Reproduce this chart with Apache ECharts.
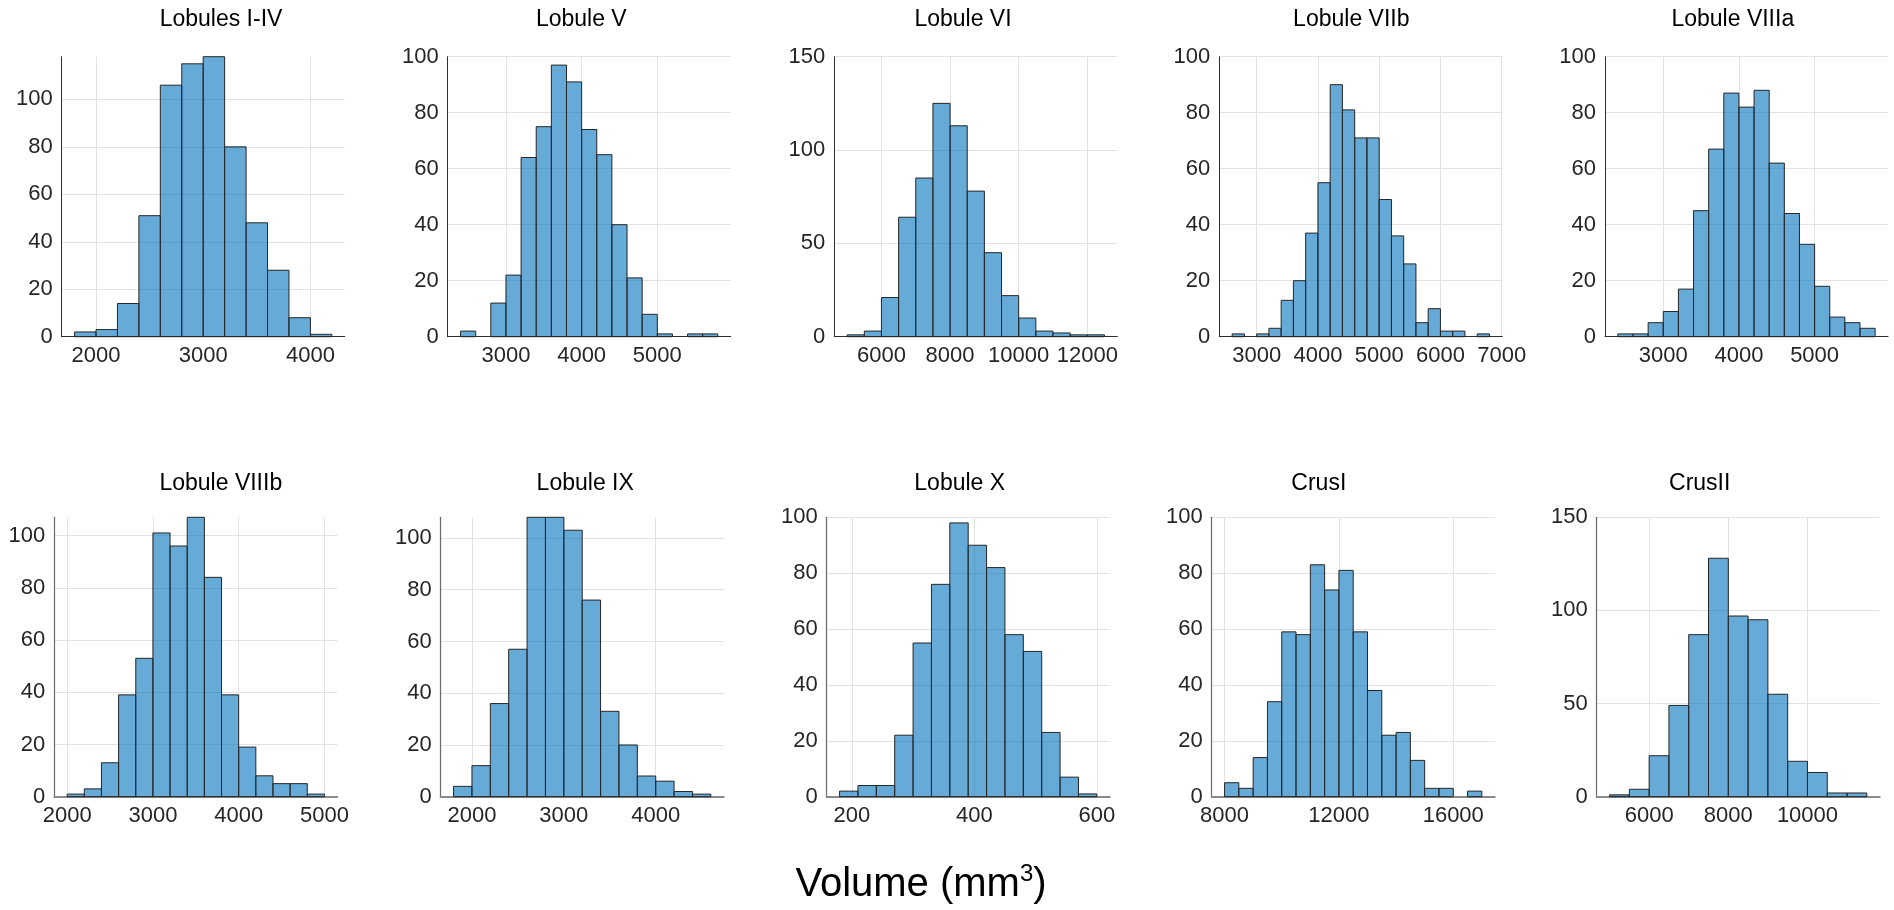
<!DOCTYPE html>
<html>
<head>
<meta charset="utf-8">
<title>Cerebellar lobule volumes</title>
<script src="https://cdn.jsdelivr.net/npm/echarts@6/dist/echarts.min.js"></script>
<style>
  html, body { margin: 0; padding: 0; background: #fff; }
  #chart { width: 1894px; height: 910px; }
</style>
</head>
<body>
<div id="chart"></div>
<script>
// ---- data: histogram counts per region (bins of equal width) ----
const panelTitles = ['Lobules I-IV', 'Lobule V', 'Lobule VI', 'Lobule VIIb', 'Lobule VIIIa',
                     'Lobule VIIIb', 'Lobule IX', 'Lobule X', 'CrusI', 'CrusII'];
const binStart = [1800, 2400, 5000, 2600, 2400, 2000, 1800, 180, 8000, 5000];
const binWidth = [200, 200, 500, 200, 200, 200, 200, 30, 500, 500];

const countsLobI_IV  = [2, 3, 14, 51, 106, 115, 118, 80, 48, 28, 8, 1];
const countsLobV     = [2, 0, 12, 22, 64, 75, 97, 91, 74, 65, 40, 21, 8, 1, 0, 1, 1];
const countsLobVI    = [1, 3, 21, 64, 85, 125, 113, 78, 45, 22, 10, 3, 2, 1, 1];
const countsLobVIIb  = [1, 0, 1, 3, 13, 20, 37, 55, 90, 81, 71, 71, 49, 36, 26, 5, 10, 2, 2, 0, 1];
const countsLobVIIIa = [1, 1, 5, 9, 17, 45, 67, 87, 82, 88, 62, 44, 33, 18, 7, 5, 3];
const countsLobVIIIb = [1, 3, 13, 39, 53, 101, 96, 107, 84, 39, 19, 8, 5, 5, 1];
const countsLobIX    = [4, 12, 36, 57, 108, 108, 103, 76, 33, 20, 8, 6, 2, 1];
const countsLobX     = [2, 4, 4, 22, 55, 76, 98, 90, 82, 58, 52, 23, 7, 1];
const countsCrusI    = [5, 3, 14, 34, 59, 58, 83, 74, 81, 59, 38, 22, 23, 13, 3, 3, 0, 2];
const countsCrusII   = [1, 4, 22, 49, 87, 128, 97, 95, 55, 19, 13, 2, 2];

const panelCounts = [countsLobI_IV, countsLobV, countsLobVI, countsLobVIIb, countsLobVIIIa,
                     countsLobVIIIb, countsLobIX, countsLobX, countsCrusI, countsCrusII];

// ---- tick labels ----
const xTicks = [
  [2000, 3000, 4000],
  [3000, 4000, 5000],
  [6000, 8000, 10000, 12000],
  [3000, 4000, 5000, 6000, 7000],
  [3000, 4000, 5000],
  [2000, 3000, 4000, 5000],
  [2000, 3000, 4000],
  [200, 400, 600],
  [8000, 12000, 16000],
  [6000, 8000, 10000]
];
const yTicksBy20 = [0, 20, 40, 60, 80, 100];
const yTicksBy50 = [0, 50, 100, 150];
const yTicks = [yTicksBy20, yTicksBy20, yTicksBy50, yTicksBy20, yTicksBy20,
                yTicksBy20, yTicksBy20, yTicksBy20, yTicksBy20, yTicksBy50];
const yMax = [118, 100, 150, 100, 100, 107, 108, 100, 100, 150];

const xAxisTitle = 'Volume (mm';

// ---- layout ----
const FONT = '"Liberation Sans", Arial, Helvetica, sans-serif';
const gridLeft = [61.7, 447.7, 834.3, 1219.3, 1605, 54.3, 440.7, 826.7, 1211.7, 1596.7];
const gridWidth = 283;
const rowTop = [56.7, 517.3];
const rowHeight = [280, 279.4];
const titleX = [221, 581.3, 963, 1351.3, 1732.8, 220.8, 585.2, 959.7, 1318.8, 1699.7];
const titleY = [19.3, 483.5];

const AXIS_COLOR = '#262626';
const GRID_COLOR = '#e2e2e2';
const BAR_FILL = 'rgba(0,114,189,0.6)';
const BAR_EDGE = '#262626';
// axis line look per row (lower row frames are drawn softer and heavier)
const xLineStyle = [{ color: '#2e2e2e', width: 1 }, { color: '#8a8a8a', width: 2 }];
const yLineStyle = [{ color: '#2e2e2e', width: 1 }, { color: '#6a6a6a', width: 1.2 }];

const grids = [], xAxes = [], yAxes = [], series = [], titles = [];

panelCounts.forEach(function (counts, i) {
  const row = i < 5 ? 0 : 1;
  const lo = binStart[i];
  const hi = binStart[i] + binWidth[i] * counts.length;
  const pad = (hi - lo) * 0.05;

  grids.push({
    left: gridLeft[i], top: rowTop[row], width: gridWidth, height: rowHeight[row],
    containLabel: false, outerBoundsMode: 'none'
  });

  xAxes.push({
    type: 'value', gridIndex: i, min: lo - pad, max: hi + pad,
    axisLine: { show: true, onZero: false, lineStyle: xLineStyle[row] },
    axisTick: { show: false, customValues: xTicks[i] },
    axisLabel: {
      customValues: xTicks[i], margin: 8,
      color: AXIS_COLOR, fontSize: 22, fontFamily: FONT,
      formatter: function (v) { return String(v); }
    },
    splitLine: { show: true, lineStyle: { color: GRID_COLOR, width: 1 } }
  });

  yAxes.push({
    type: 'value', gridIndex: i, min: 0, max: yMax[i],
    axisLine: { show: true, onZero: false, lineStyle: yLineStyle[row] },
    axisTick: { show: false, customValues: yTicks[i] },
    axisLabel: {
      customValues: yTicks[i], margin: 9,
      color: AXIS_COLOR, fontSize: 22, fontFamily: FONT,
      formatter: function (v) { return String(v); }
    },
    splitLine: { show: true, lineStyle: { color: GRID_COLOR, width: 1 } }
  });

  // each datum: [bin left edge, bin right edge, count]
  const data = counts.map(function (c, k) {
    return [lo + binWidth[i] * k, lo + binWidth[i] * (k + 1), c];
  });

  series.push({
    type: 'custom',
    xAxisIndex: i, yAxisIndex: i,
    encode: { x: [0, 1], y: 2 },
    silent: true,
    data: data,
    renderItem: function (params, api) {
      const c = api.value(2);
      if (!c) return null;
      const p0 = api.coord([api.value(0), 0]);
      const p1 = api.coord([api.value(1), c]);
      return {
        type: 'rect',
        shape: { x: p0[0], y: p1[1], width: p1[0] - p0[0], height: p0[1] - p1[1] },
        style: { fill: BAR_FILL, stroke: BAR_EDGE, lineWidth: 1 }
      };
    }
  });

  titles.push({
    text: panelTitles[i],
    left: titleX[i], top: titleY[row],
    textAlign: 'center', textVerticalAlign: 'middle', padding: 0,
    textStyle: { color: '#000', fontSize: 23, fontWeight: 'normal', fontFamily: FONT }
  });
});

// shared x-axis caption with superscript unit
titles.push({
  text: '{a|' + xAxisTitle + '}{s|3}{a|)}',
  left: 921, top: 885,
  textAlign: 'center', textVerticalAlign: 'middle', padding: 0,
  textStyle: {
    fontWeight: 'normal', fontFamily: FONT, color: '#000',
    rich: {
      a: { fontSize: 40, lineHeight: 46, color: '#000', fontFamily: FONT, fontWeight: 'normal', verticalAlign: 'middle' },
      s: { fontSize: 24, lineHeight: 39, color: '#000', fontFamily: FONT, fontWeight: 'normal', verticalAlign: 'top' }
    }
  }
});

const chart = echarts.init(document.getElementById('chart'), null, { renderer: 'canvas' });
chart.setOption({
  backgroundColor: '#fff',
  animation: false,
  title: titles,
  grid: grids,
  xAxis: xAxes,
  yAxis: yAxes,
  series: series
});
</script>
</body>
</html>
